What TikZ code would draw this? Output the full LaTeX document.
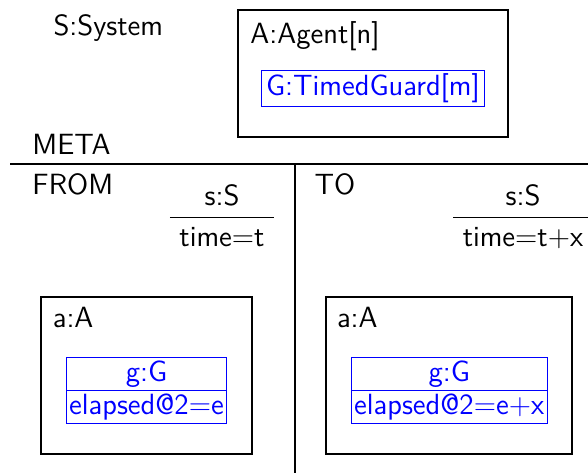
\documentclass[tikz,border=0pt]{standalone}
\usetikzlibrary{shapes.multipart}
\begin{document}
\begin{tikzpicture}[
        x=0.4pt, y=-0.4pt,
        font=\fontsize{11.7pt}{14pt}\sffamily,
        title/.style={anchor=base west, inner sep=0pt},
        objbox/.style={rectangle, draw=black, thick, inner sep=0pt},
        guard/.style={rectangle, draw=blue, text=blue, inner xsep=1.8pt, inner ysep=1.15pt},
        guardsplit/.style={rectangle split, rectangle split parts=2, draw=blue, text=blue,
                           inner xsep=1.2pt, inner ysep=1.1pt},
        state/.style={rectangle split, rectangle split parts=2, inner xsep=3.6pt, inner ysep=4pt},
        divider/.style={thick}
    ]
    \useasboundingbox (0,0) rectangle (588,473);

    % meta level
    \node[title] (system) at (53,36) {S:System};
    \node[objbox, minimum width=108pt, minimum height=50.7pt] (agent) at (373.3,73.3) {};
    \node[title] (agentname) at (250,43) {A:Agent[n]};
    \node[guard] (guard) at (373,88.5) {G:TimedGuard[m]};
    \node[title] (meta) at (32,154.3) {META};

    \coordinate (metaleft) at (10,164);
    \coordinate (metaright) at (588,164);
    \coordinate (splittop) at (295,164);
    \coordinate (splitbottom) at (295,473);
    \draw[divider] (metaleft) -- (metaright);
    \draw[divider] (splittop) -- (splitbottom);

    % from
    \node[title] (from) at (32,194.5) {FROM};
    \node[state, anchor=text split] (fromstate) at (222,217) {s:S \nodepart{two} time=t};
    \draw[thin] (fromstate.text split west) -- (fromstate.text split east);
    \node[objbox, minimum width=84.2pt, minimum height=62.8pt] (fromagent) at (146.25,375.5) {};
    \node[title] (fromagentname) at (52.3,327.7) {a:A};
    \node[guardsplit, anchor=text split] (fromguard) at (146.5,390.7) {g:G \nodepart{two} elapsed@2=e};

    % to
    \node[title] (to) at (314,194.5) {TO};
    \node[state, anchor=text split] (tostate) at (523,217) {s:S \nodepart{two} time=t+x};
    \draw[thin] (tostate.text split west) -- (tostate.text split east);
    \node[objbox, minimum width=98.4pt, minimum height=62.8pt] (toagent) at (448.7,375.5) {};
    \node[title] (toagentname) at (336.5,327.7) {a:A};
    \node[guardsplit, anchor=text split] (toguard) at (449.2,390.7) {g:G \nodepart{two} elapsed@2=e+x};
\end{tikzpicture}
\end{document}
